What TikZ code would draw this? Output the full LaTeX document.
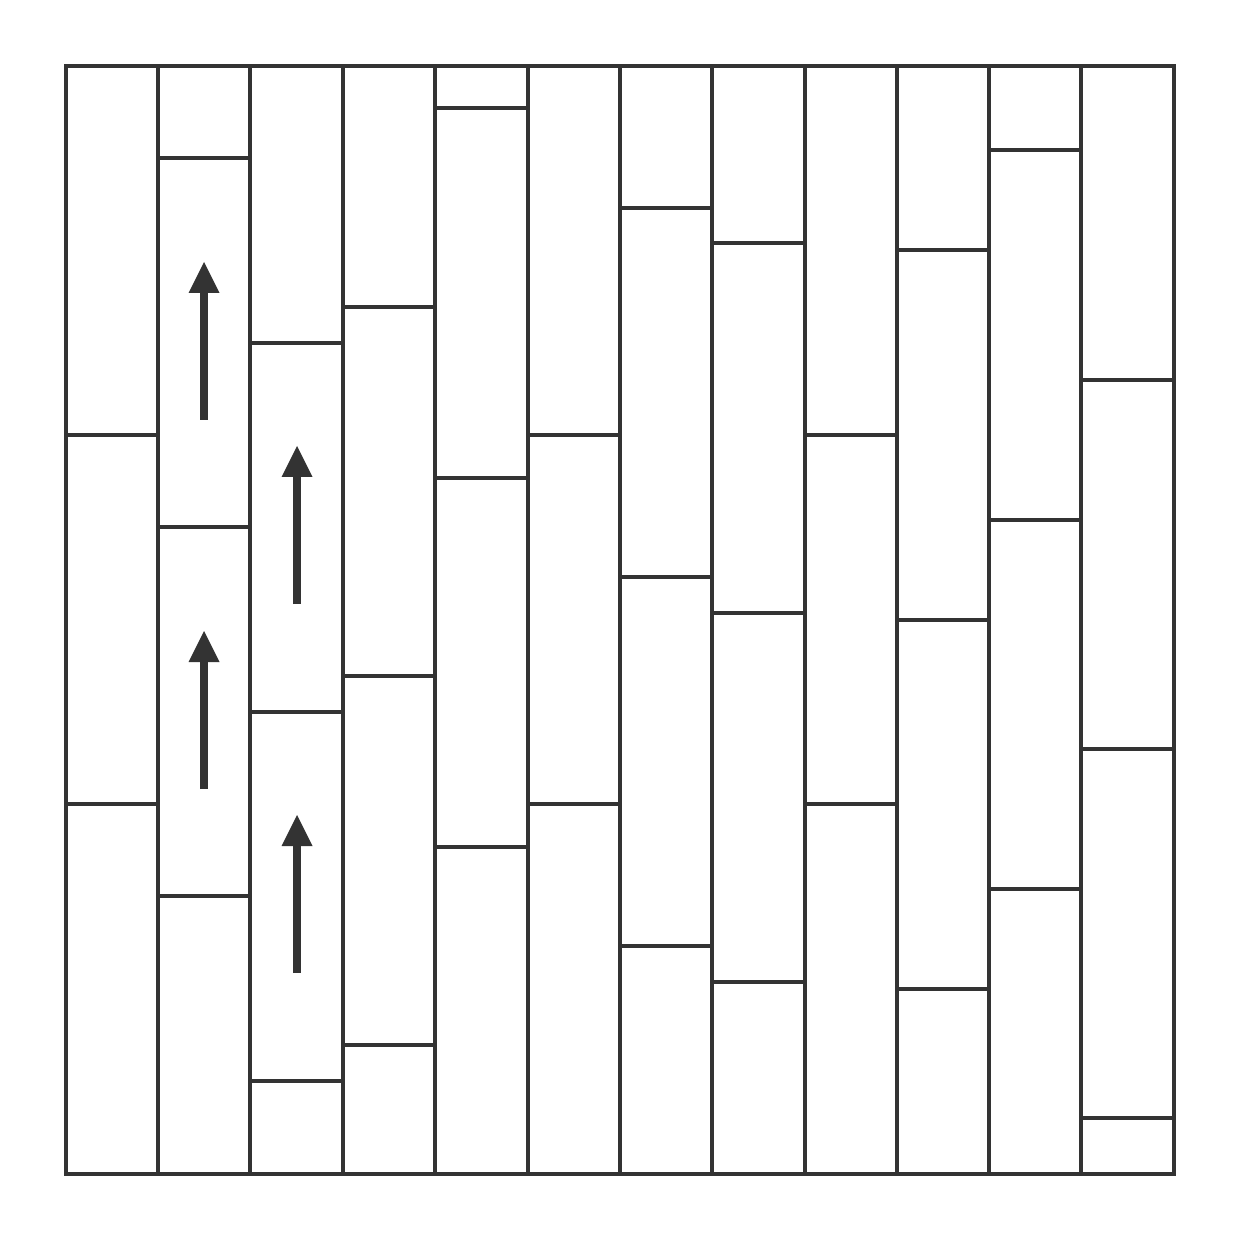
\documentclass[tikz,border=0pt]{standalone}
\definecolor{ink}{HTML}{333333}
\begin{document}
\begin{tikzpicture}[x=0.01cm,y=-0.01cm,
  plank/.style={draw=ink,line width=0.04cm},
  shaft/.style={draw=ink,line width=0.08cm},
  head/.style={fill=ink}]
\useasboundingbox (0,0) rectangle (1240,1240);
\draw[plank] (66,66) rectangle (1174,1174);
\foreach \x in {158,250,343,435,528,620,712,805,897,989,1081}
  \draw[plank] (\x,66) -- (\x,1174);
\foreach \a/\b/\ys in {66/158/{435,804},158/250/{158,527,896},250/343/{343,712,1081},343/435/{307,676,1045},435/528/{108,478,847},528/620/{435,804},620/712/{208,577,946},712/805/{243,613,982},805/897/{435,804},897/989/{250,620,989},989/1081/{150,520,889},1081/1174/{380,749,1118}}
  \foreach \y in \ys \draw[plank] (\a,\y) -- (\b,\y);
\foreach \x/\t in {204/262,204/631,297/446,297/815}{
  \draw[shaft] (\x,\t+158) -- (\x,\t+25);
  \fill[head] (\x,\t) -- (\x+15.5,\t+31) -- (\x-15.5,\t+31) -- cycle;
}
\end{tikzpicture}
\end{document}
